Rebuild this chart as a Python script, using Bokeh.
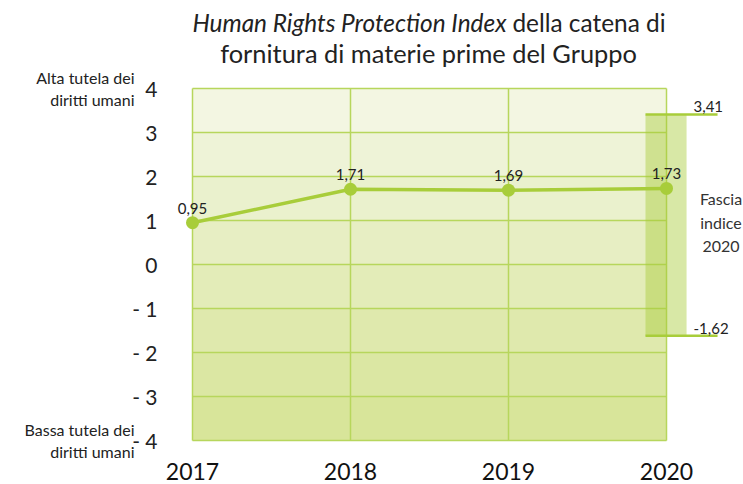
from bokeh.plotting import figure
from bokeh.models import Range1d, FixedTicker, Label, ColumnDataSource, LinearAxis
from bokeh.core.properties import value
from bokeh.embed import file_html
from bokeh.resources import INLINE

# ---- data ----
years = [2017, 2018, 2019, 2020]
year_labels = ["2017", "2018", "2019", "2020"]
index_values = [0.95, 1.71, 1.69, 1.73]
index_labels = ["0,95", "1,71", "1,69", "1,73"]
range_year = 2020
range_low = -1.62
range_high = 3.41
range_labels = ["-1,62", "3,41"]
y_ticks = [-4, -3, -2, -1, 0, 1, 2, 3, 4]
y_tick_labels = ["- 4", "- 3", "- 2", "- 1", "0", "1", "2", "3", "4"]
title_italic = "Human Rights Protection Index"
title_rest = "della catena di"
title_line2 = "fornitura di materie prime del Gruppo"
top_note = ["Alta tutela dei", "diritti umani"]
bottom_note = ["Bassa tutela dei", "diritti umani"]
band_note = ["Fascia", "indice", "2020"]

# ---- styles ----
FONT = "Lato"
GREEN = "#a8cd3a"
GRID = "#b7d65c"
TXT = "#222222"
band_colors = ["#d8e59a", "#dbe7a3", "#dfe9ad", "#e3ecb8", "#e7eec3",
               "#eaf1cd", "#eef3d7", "#f3f6e2"]
LINE_GAP = 0.26  # half spacing of two-line notes, in y units

x0, x1 = 2016.8734, 2020.4873
y0, y1 = -4.318, 6.0

p = figure(width=743, height=484, output_backend="svg", toolbar_location=None,
           x_range=Range1d(x0, x1), y_range=Range1d(y0, y1),
           min_border_left=172, min_border_right=0, min_border_top=0,
           min_border_bottom=30)
p.outline_line_color = None
p.background_fill_color = "white"
p.border_fill_color = "white"
p.xgrid.visible = False
p.ygrid.visible = False

# background bands between consecutive y ticks
bands = ColumnDataSource(dict(bottom=y_ticks[:-1], top=y_ticks[1:],
                              color=band_colors))
p.quad(left=years[0], right=years[-1], bottom="bottom", top="top",
       fill_color="color", line_color=None, source=bands)

# grid lines within the box
p.segment(x0=[years[0]] * len(y_ticks), x1=[years[-1]] * len(y_ticks),
          y0=y_ticks, y1=y_ticks, line_color=GRID, line_width=1.5)
p.segment(x0=years, x1=years, y0=[y_ticks[0]] * len(years),
          y1=[y_ticks[-1]] * len(years), line_color=GRID, line_width=1.5)

# 2020 range band
p.quad(left=range_year - 0.133, right=range_year + 0.127, bottom=range_low,
       top=range_high, fill_color=GREEN, fill_alpha=0.45, line_color=None)
p.segment(x0=[range_year - 0.133] * 2, x1=[range_year + 0.323] * 2,
          y0=[range_low, range_high], y1=[range_low, range_high],
          line_color=GREEN, line_width=2.5)
p.text(x=[range_year + 0.171] * 2, y=[range_low, range_high], text=range_labels,
       text_font=value(FONT), text_font_size="15px", text_color=TXT,
       text_align="left", text_baseline="bottom", y_offset=-2)

# main line
src = ColumnDataSource(dict(x=years, y=index_values, lab=index_labels))
p.line("x", "y", source=src, line_color=GREEN, line_width=3.5)
p.scatter("x", "y", source=src, size=13, fill_color=GREEN, line_color=None)
p.text("x", "y", text="lab", source=src, text_font=value(FONT),
       text_font_size="15px", text_color=TXT, text_align="center",
       text_baseline="bottom", y_offset=-9)

# axes
p.yaxis.ticker = FixedTicker(ticks=y_ticks)
p.yaxis.major_label_overrides = {t: l for t, l in zip(y_ticks, y_tick_labels)}
p.yaxis.axis_line_color = None
p.yaxis.major_tick_line_color = None
p.yaxis.minor_tick_line_color = None
p.yaxis.major_label_standoff = 9
p.yaxis.major_label_text_font = FONT
p.yaxis.major_label_text_font_size = "21px"
p.yaxis.major_label_text_color = TXT

top_v, bot_v = max(y_ticks), min(y_ticks)
note_pos = [top_v + LINE_GAP, top_v - LINE_GAP, bot_v + LINE_GAP, bot_v - LINE_GAP]
note_txt = top_note + bottom_note
note_axis = LinearAxis(ticker=FixedTicker(ticks=note_pos),
                       major_label_overrides={t: l for t, l in zip(note_pos, note_txt)},
                       axis_line_color=None, major_tick_line_color=None,
                       minor_tick_line_color=None, major_label_standoff=-11,
                       major_label_text_font=FONT,
                       major_label_text_font_size="16px",
                       major_label_text_color=TXT)
p.add_layout(note_axis, "left")

p.xaxis.ticker = FixedTicker(ticks=years)
p.xaxis.major_label_overrides = {t: l for t, l in zip(years, year_labels)}
p.xaxis.axis_line_color = None
p.xaxis.major_tick_line_color = None
p.xaxis.minor_tick_line_color = None
p.xaxis.major_label_standoff = 2
p.xaxis.major_label_text_font = FONT
p.xaxis.major_label_text_font_size = "23px"
p.xaxis.major_label_text_color = "#111111"

# titles
p.add_layout(Label(x=2018.987, y=5.5, text=title_italic, text_font=FONT,
                   text_font_style="italic", text_font_size="24.4px",
                   text_color=TXT, text_align="right", text_baseline="middle"))
p.add_layout(Label(x=2019.025, y=5.5, text=title_rest, text_font=FONT,
                   text_font_size="24.4px", text_color=TXT, text_align="left",
                   text_baseline="middle"))
p.add_layout(Label(x=2018.494, y=4.818, text=title_line2, text_font=FONT,
                   text_font_size="25.4px", text_color=TXT, text_align="center",
                   text_baseline="middle"))

# band note
for txt, yy in zip(band_note, [1.5, 0.955, 0.409]):
    p.add_layout(Label(x=2020.345, y=yy, text=txt, text_font=FONT,
                       text_font_size="16px", text_color="#333333",
                       text_align="center", text_baseline="middle"))

open("out.html", "w").write(file_html(p, INLINE))
